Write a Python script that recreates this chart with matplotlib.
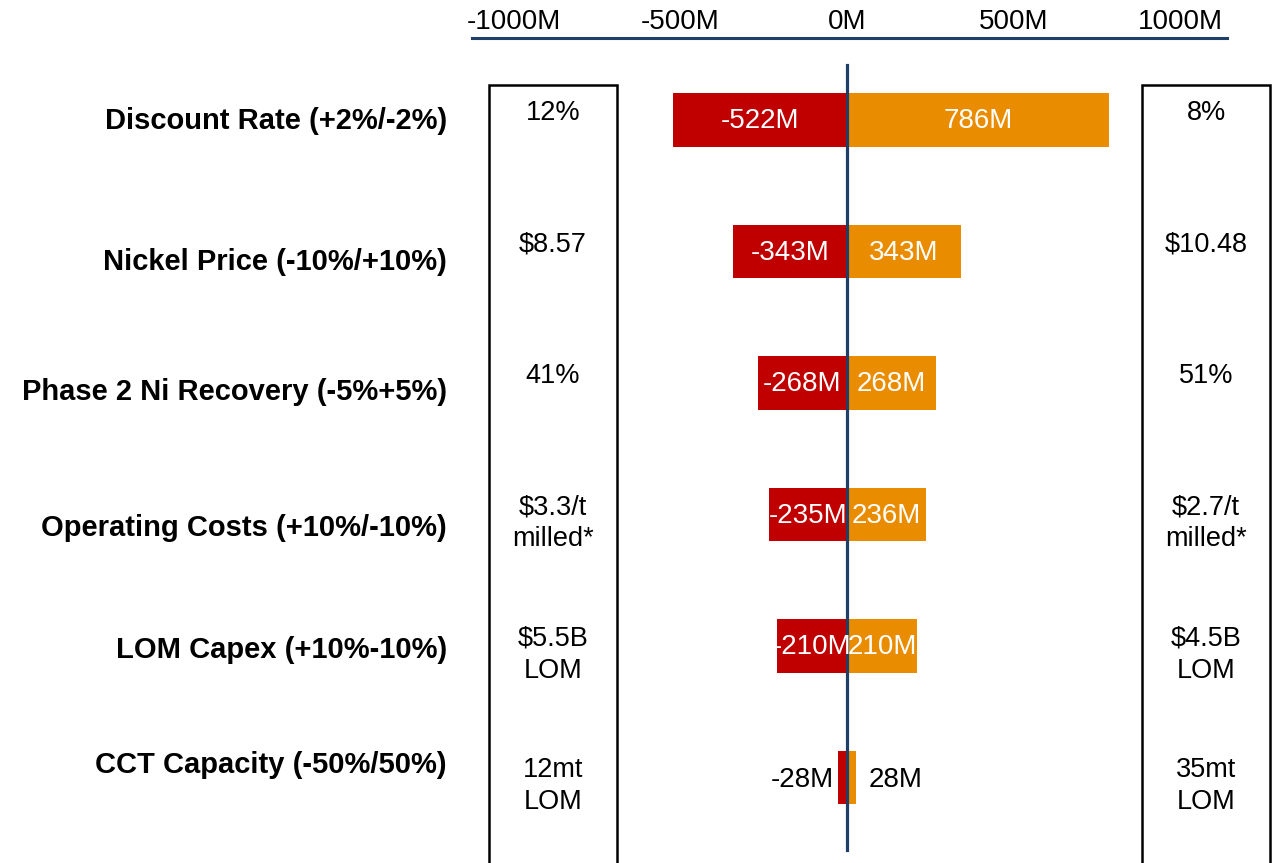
import matplotlib
matplotlib.use('Agg')
import matplotlib.pyplot as plt
from matplotlib.patches import Rectangle

plt.rcParams['font.family'] = ['Liberation Sans', 'DejaVu Sans']

# donnees du graphique (en M)
categories = ['Discount Rate (+2%/-2%)', 'Nickel Price (-10%/+10%)',
              'Phase 2 Ni Recovery (-5%+5%)', 'Operating Costs (+10%/-10%)',
              'LOM Capex (+10%-10%)', 'CCT Capacity (-50%/50%)']
low_values = [-522, -343, -268, -235, -210, -28]
high_values = [786, 343, 268, 236, 210, 28]
low_inputs = ['12%', '$8.57', '41%', '$3.3/t\nmilled*', '$5.5B\nLOM', '12mt\nLOM']
high_inputs = ['8%', '$10.48', '51%', '$2.7/t\nmilled*', '$4.5B\nLOM', '35mt\nLOM']
tick_values = [-1000, -500, 0, 500, 1000]
tick_labels = ['-1000M', '-500M', '0M', '500M', '1000M']

# mise en page (pixels de l'image)
W, H = 1279, 863
X0 = 847            # position du 0
SCALE = 1000 / 333.0  # M par pixel
ROW0, ROW_STEP = 120, 131.5
label_shift = [1, 11, 9, 13, 4, -13]  # petit decalage vertical des libelles

RED = '#C00000'
ORANGE = '#EA8C00'
NAVY = '#1F3F68'


def px_to_m(px):
    return (px - X0) * SCALE


fig = plt.figure(figsize=(W / 100, H / 100), dpi=100)
ax = fig.add_axes([0, 0, 1, 1])
ax.set_xlim(px_to_m(0), px_to_m(W))
ax.set_ylim((H - ROW0) / ROW_STEP, -ROW0 / ROW_STEP)
ax.axis('off')

y = list(range(len(categories)))
ax.barh(y, low_values, height=0.41, color=RED, zorder=2)
ax.barh(y, high_values, height=0.41, color=ORANGE, zorder=2)

for i in y:
    lo, hi = low_values[i], high_values[i]
    if abs(lo) > 100:
        ax.text(lo / 2, i + 0.01, '%dM' % lo, ha='center', va='center',
                color='white', fontsize=20, zorder=4)
    else:
        ax.annotate('%dM' % lo, (lo, i + 0.02), xytext=(-3, 0), textcoords='offset points',
                    ha='right', va='center', fontsize=20, zorder=4)
    if abs(hi) > 100:
        ax.text(hi / 2, i + 0.01, '%dM' % hi, ha='center', va='center',
                color='white', fontsize=20, zorder=4)
    else:
        ax.annotate('%dM' % hi, (hi, i + 0.02), xytext=(9, 0), textcoords='offset points',
                    ha='left', va='center', fontsize=20, zorder=4)

# ligne centrale
ax.axvline(0, ymin=1 - 850 / H, ymax=1 - 65 / H, color=NAVY, lw=2.3, zorder=3)

# libelles des categories
tr = ax.get_yaxis_transform()
for i, cat in enumerate(categories):
    ax.text(447 / W, i + label_shift[i] / ROW_STEP, cat, transform=tr,
            ha='right', va='center', fontsize=21, fontweight='bold')

# colonnes des valeurs d'entree
for x_left in (489, 1142):
    ax.add_patch(Rectangle((x_left / W, -0.05), 128 / W, 1.05 - 85 / H,
                           transform=ax.transAxes, fill=False, lw=1.8,
                           edgecolor='black'))
for i in y:
    ax.text(553 / W, i - 0.155, low_inputs[i], transform=tr, ha='center',
            va='top', fontsize=19.5, linespacing=1.3)
    ax.text(1206 / W, i - 0.155, high_inputs[i], transform=tr, ha='center',
            va='top', fontsize=19.5, linespacing=1.3)

# axe du haut
ax_top = fig.add_axes([472 / W, 1 - 38 / H, 755 / W, 0.0001])
ax_top.set_xlim(px_to_m(472), px_to_m(1227))
ax_top.patch.set_visible(False)
for s in ['bottom', 'left', 'right']:
    ax_top.spines[s].set_visible(False)
ax_top.spines['top'].set_color(NAVY)
ax_top.spines['top'].set_linewidth(2.2)
ax_top.xaxis.tick_top()
ax_top.set_xticks(tick_values)
ax_top.set_xticklabels(tick_labels)
ax_top.set_yticks([])
ax_top.tick_params(axis='x', length=0, pad=2, labelsize=20)

fig.savefig('out.png', dpi=100)
